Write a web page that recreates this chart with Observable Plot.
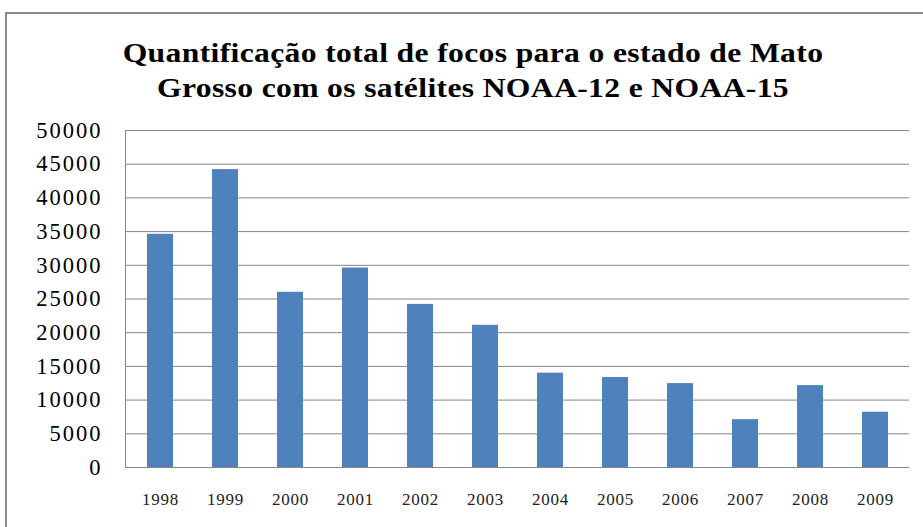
<!DOCTYPE html>
<html>
<head>
<meta charset="utf-8">
<script src="https://cdn.jsdelivr.net/npm/d3@7"></script>
<script src="https://cdn.jsdelivr.net/npm/@observablehq/plot@0.6"></script>
<style>
  html, body { margin: 0; padding: 0; background: #fff; overflow: hidden; }
  #frame { position: absolute; left: 5px; top: 12px; width: 940px; height: 540px; border: 2px solid #8a8a8a; box-sizing: border-box; }
  #title { position: absolute; left: 0; top: 35px; width: 946px; text-align: center;
           font-family: "Liberation Serif", "DejaVu Serif", serif; font-weight: bold;
           font-size: 28px; line-height: 35px; color: #000; letter-spacing: 0.3px;
           transform: scaleX(1.13); transform-origin: 473px 0; }
  #chart { position: absolute; left: 0; top: 100px; }
  #chart svg { overflow: visible; }
  #chart .yax text { font-family: "Liberation Serif", "DejaVu Serif", serif; font-size: 22.5px; letter-spacing: 2px; fill: #000; }
  #chart .xax text { font-family: "Liberation Serif", "DejaVu Serif", serif; font-size: 17px; letter-spacing: 0.8px; fill: #222; }
</style>
</head>
<body>
<div id="frame"></div>
<div id="title">Quantificação total de focos para o estado de Mato<br>Grosso com os satélites NOAA-12 e NOAA-15</div>
<div id="chart"></div>
<script>
const years = ["1998","1999","2000","2001","2002","2003","2004","2005","2006","2007","2008","2009"];
const focos = [34600, 44200, 26000, 29600, 24200, 21100, 14000, 13350, 12450, 7100, 12150, 8200];
const yTicks = [0, 5000, 10000, 15000, 20000, 25000, 30000, 35000, 40000, 45000, 50000];

const data = years.map((y, i) => ({year: y, value: focos[i]}));

const chart = Plot.plot({
  width: 923,
  height: 427,
  marginLeft: 125,
  marginRight: 14,
  marginTop: 30,
  marginBottom: 60,
  style: {fontFamily: "'Liberation Serif', 'DejaVu Serif', serif"},
  x: {domain: years, paddingInner: 0.6, paddingOuter: 0.3, label: null},
  y: {domain: [0, 50000], label: null},
  marks: [
    Plot.gridY(yTicks, {stroke: "#868686", strokeOpacity: 1}),
    Plot.barY(data, {x: "year", y: "value", fill: "#4F81BD"}),
    Plot.ruleY([0], {stroke: "#868686"}),
    Plot.frame({anchor: "left", stroke: "#868686"}),
    Plot.axisY(yTicks, {tickSize: 0, tickPadding: 23, tickFormat: d3.format("d"), className: "yax", fontSize: 22.5}),
    Plot.axisX({tickSize: 0, tickPadding: 25, className: "xax", fontSize: 17})
  ]
});
document.getElementById("chart").appendChild(chart);
</script>
</body>
</html>
